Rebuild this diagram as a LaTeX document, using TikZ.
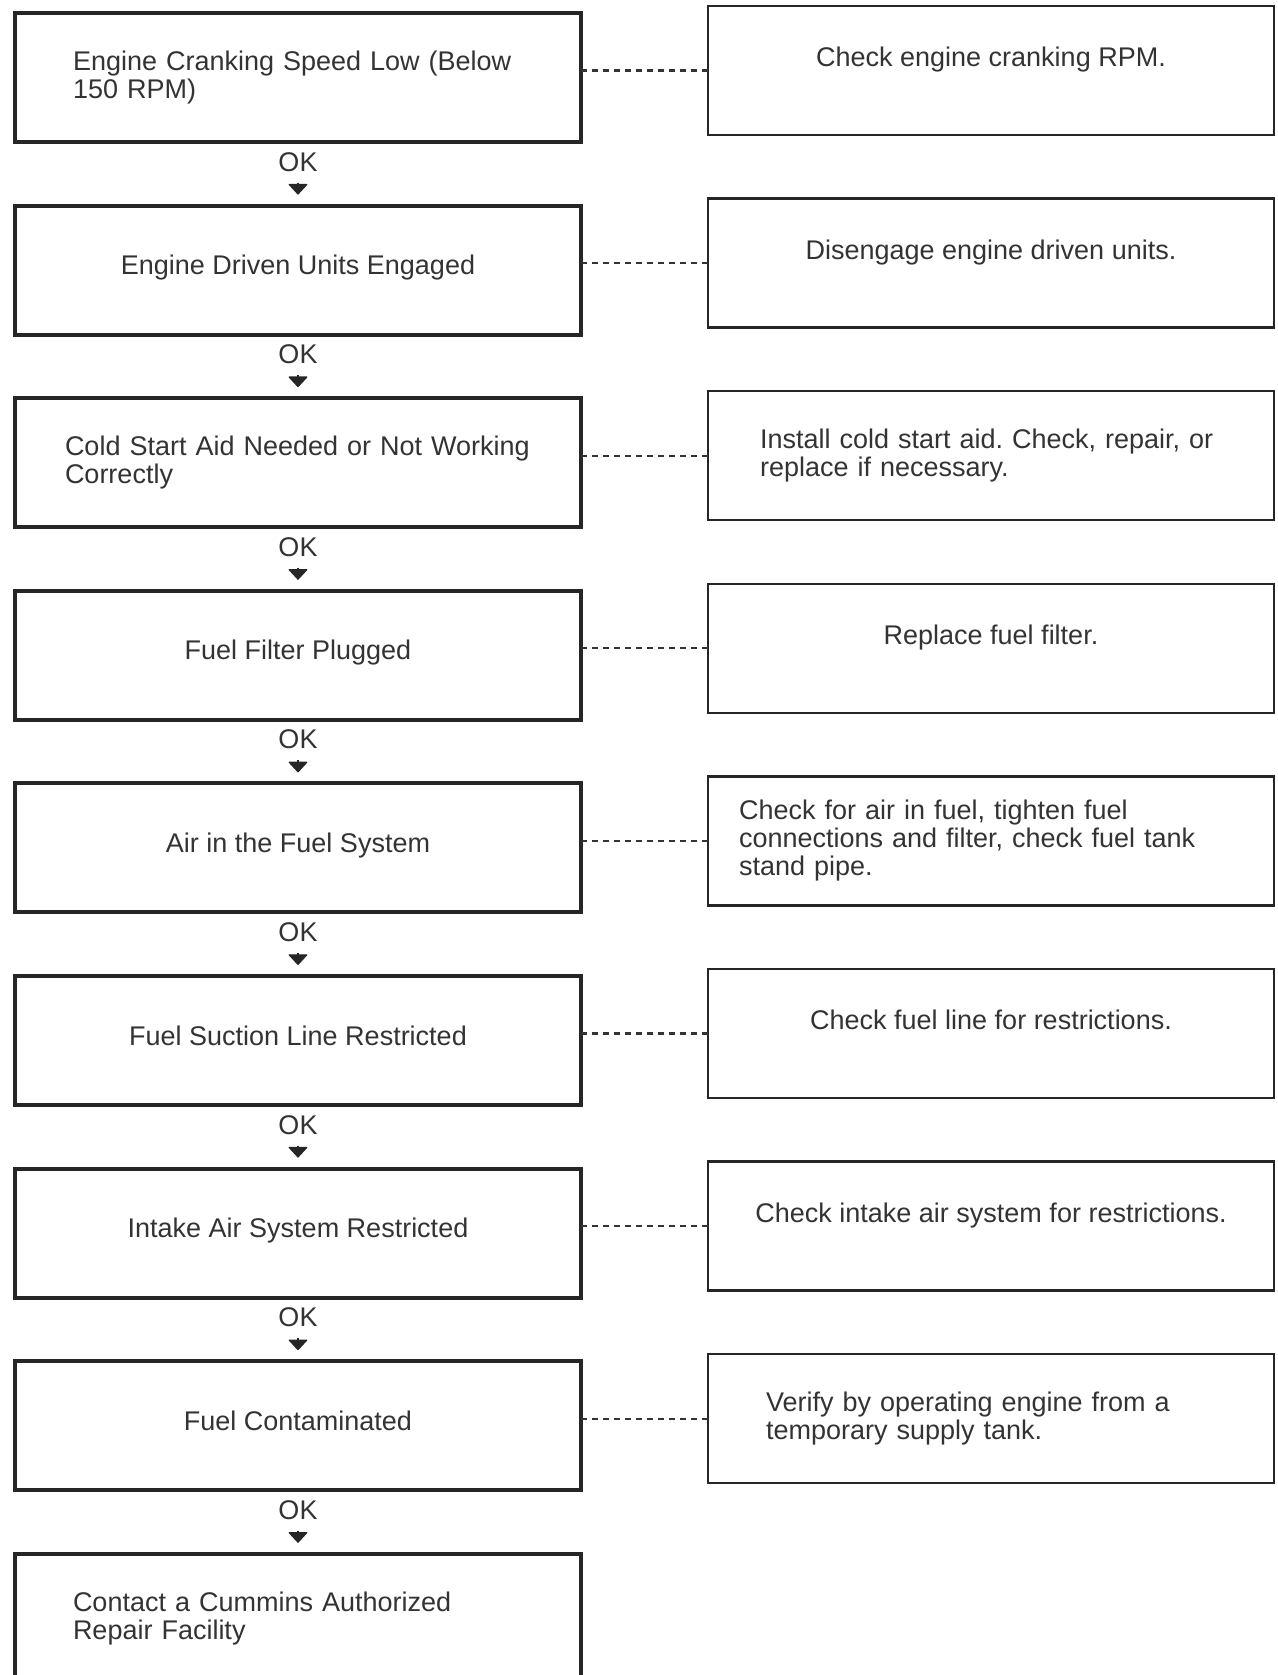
\documentclass[tikz,border=0pt]{standalone}
\usepackage{fontspec}
\setmainfont{Liberation Sans}
\usetikzlibrary{positioning, arrows.meta}

\begin{document}
\begin{tikzpicture}[
  check/.style={
    rectangle,
    draw=black!85,
    line width=4pt,
    outer sep=0pt,
    align=center,
    minimum width=566pt,
    minimum height=129pt,
    text=black!80,
    font=\fontsize{27}{28}\selectfont\frenchspacing
  },
  remedy/.style={
    check,
    line width=2.4pt
  },
  lnote/.style={align=left, inner xsep=58pt, text width=450pt},
  onel/.style={text height=20pt, text depth=11pt},
  oner/.style={text height=20pt, text depth=28pt},
  ok/.style={inner sep=0pt, text=black!80, font=\fontsize{27}{28}\selectfont},
  okarrow/.style={-{Triangle[width=20pt, length=11pt, round]}, line width=1.2pt,
    draw=black!85, fill=black!85, shorten <=11pt, shorten >=11pt},
  link/.style={draw=black!80, line width=2.2pt, dash pattern=on 6pt off 5pt},
  node distance=63.6pt and 127pt
]
\useasboundingbox (0,0) rectangle (1277pt,-1675pt);

\node[check, lnote] (cranking) at (298pt,-77.5pt) {Engine Cranking Speed Low (Below\\150 RPM)};
\node[check, onel, below=of cranking] (driven) {Engine Driven Units Engaged};
\node[check, lnote, inner xsep=50pt, text width=466pt, below=of driven] (coldstart) {Cold Start Aid Needed or Not Working\\Correctly};
\node[check, onel, below=of coldstart] (filter) {Fuel Filter Plugged};
\node[check, onel, below=of filter] (airfuel) {Air in the Fuel System};
\node[check, onel, below=of airfuel] (suction) {Fuel Suction Line Restricted};
\node[check, onel, below=of suction] (intake) {Intake Air System Restricted};
\node[check, onel, below=of intake] (contam) {Fuel Contaminated};
\node[check, lnote, below=of contam] (contact) {Contact a Cummins Authorized\\Repair Facility};

\node[remedy, oner, right=of cranking, yshift=7pt] (checkrpm) {Check engine cranking RPM.};
\node[remedy, oner, right=of driven, yshift=7pt] (disengage) {Disengage engine driven units.};
\node[remedy, lnote, inner xsep=52pt, text width=462pt, right=of coldstart, yshift=7pt] (installaid) {Install cold start aid. Check, repair, or\\replace if necessary.};
\node[remedy, oner, right=of filter, yshift=7pt] (newfilter) {Replace fuel filter.};
\node[remedy, lnote, inner xsep=31pt, text width=504pt, right=of airfuel, yshift=7pt] (checkair) {Check for air in fuel, tighten fuel\\connections and filter, check fuel tank\\stand pipe.};
\node[remedy, oner, right=of suction, yshift=7pt] (checkline) {Check fuel line for restrictions.};
\node[remedy, oner, right=of intake, yshift=7pt] (checkintake) {Check intake air system for restrictions.};
\node[remedy, lnote, right=of contam, yshift=7pt] (verify) {Verify by operating engine from a\\temporary supply tank.};

\node[ok, below=10pt of cranking] (ok1) {OK};
\node[ok, below=10pt of driven] (ok2) {OK};
\node[ok, below=10pt of coldstart] (ok3) {OK};
\node[ok, below=10pt of filter] (ok4) {OK};
\node[ok, below=10pt of airfuel] (ok5) {OK};
\node[ok, below=10pt of suction] (ok6) {OK};
\node[ok, below=10pt of intake] (ok7) {OK};
\node[ok, below=10pt of contam] (ok8) {OK};

\draw[okarrow] (ok1) -- (driven);
\draw[okarrow] (ok2) -- (coldstart);
\draw[okarrow] (ok3) -- (filter);
\draw[okarrow] (ok4) -- (airfuel);
\draw[okarrow] (ok5) -- (suction);
\draw[okarrow] (ok6) -- (intake);
\draw[okarrow] (ok7) -- (contam);
\draw[okarrow] (ok8) -- (contact);

\draw[link] (cranking.east |- checkrpm.west) -- (checkrpm.west);
\draw[link] (driven.east |- disengage.west) -- (disengage.west);
\draw[link] (coldstart.east |- installaid.west) -- (installaid.west);
\draw[link] (filter.east |- newfilter.west) -- (newfilter.west);
\draw[link] (airfuel.east |- checkair.west) -- (checkair.west);
\draw[link] (suction.east |- checkline.west) -- (checkline.west);
\draw[link] (intake.east |- checkintake.west) -- (checkintake.west);
\draw[link] (contam.east |- verify.west) -- (verify.west);

\end{tikzpicture}
\end{document}
